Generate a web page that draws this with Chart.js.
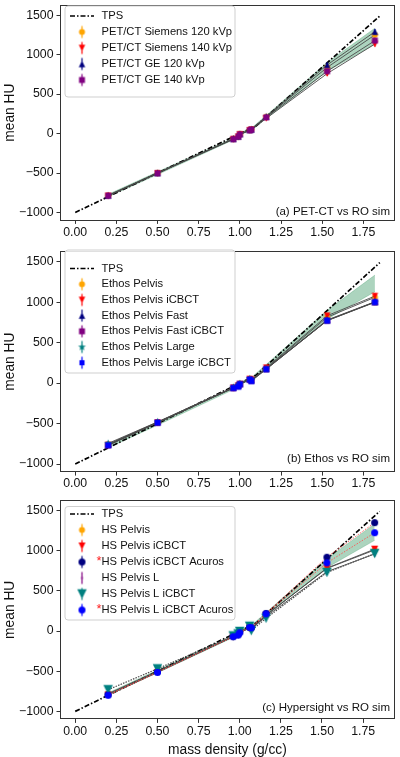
<!DOCTYPE html>
<html><head><meta charset="utf-8">
<script src="https://cdn.jsdelivr.net/npm/chart.js@4.4.0/dist/chart.umd.min.js"></script>
<style>
html,body{margin:0;padding:0;background:#fff;width:400px;height:757px;overflow:hidden;position:relative}
canvas{position:absolute;left:0}
</style></head><body>
<canvas id="c1" width="400" height="245" style="top:0px"></canvas>
<canvas id="c2" width="400" height="250" style="top:245px"></canvas>
<canvas id="c3" width="400" height="262" style="top:495px"></canvas>
<script>
// ---------- DATA ----------
const density = [0.20, 0.50, 0.96, 0.99, 1.00, 1.06, 1.07, 1.16, 1.53, 1.82];
const xTicks = [0.00, 0.25, 0.50, 0.75, 1.00, 1.25, 1.50, 1.75];
const yTicks = [-1000, -500, 0, 500, 1000, 1500];
const tpsDensity = [0.00, 1.00, 1.10, 1.85];
const tpsHU = [-1000, 0, 100, 1490];
const bandLow  = [-800, -520, -80, -50, -15, 30, 40, 190, 790, 1130];
const bandHigh = [-770, -485, -55, -25, 10, 60, 70, 230, 900, 1335];
const errSmall = [15, 15, 12, 12, 12, 12, 12, 15, 30, 35];

// panel (a) PET-CT
const petSiemens120 = [-785, -500, -68, -38, -8, 45, 52, 212, 838, 1250];
const petSiemens140 = [-790, -505, -72, -40, -10, 40, 48, 192, 760, 1135];
const petGE120      = [-782, -498, -65, -35, -5, 48, 55, 218, 870, 1290];
const petGE140      = [-787, -502, -70, -40, -10, 42, 50, 205, 790, 1178];
// panel (b) Ethos
const ethosPelvis          = [-760, -485, -60, -35, -15, 45, 35, 180, 815, 1060];
const ethosPelvisICBCT     = [-765, -488, -58, -30, -12, 50, 40, 190, 833, 1075];
const ethosPelvisFast      = [-755, -482, -55, -28, -10, 48, 38, 178, 780, 1005];
const ethosPelvisFastICBCT = [-770, -490, -62, -35, -15, 42, 30, 172, 772, 998];
const ethosPelvisLarge     = [-745, -480, -52, -25, -5, 55, 35, 176, 776, 1002];
const ethosPelvisLargeICBCT= [-768, -488, -60, -45, -12, 45, 25, 172, 772, 1002];
// panel (c) Hypersight
const hsPelvis            = [-790, -510, -70, -45, -15, 40, 30, 200, 780, 1010];
const hsPelvisICBCT       = [-795, -515, -72, -48, -18, 38, 28, 195, 785, 1020];
const hsPelvisICBCTAcuros = [-790, -505, -65, -40, -10, 50, 45, 220, 920, 1350];
const hsPelvisL           = [-780, -500, -68, -45, -15, 40, 25, 180, 740, 960];
const hsPelvisLICBCT      = [-730, -470, -60, -35, -5, 60, 5, 160, 730, 965];
const hsPelvisLICBCTAcuros= [-800, -515, -70, -50, -20, 45, 40, 215, 850, 1225];

const labelsA = ['PET/CT Siemens 120 kVp','PET/CT Siemens 140 kVp','PET/CT GE 120 kVp','PET/CT GE 140 kVp'];
const labelsB = ['Ethos Pelvis','Ethos Pelvis iCBCT','Ethos Pelvis Fast','Ethos Pelvis Fast iCBCT','Ethos Pelvis Large','Ethos Pelvis Large iCBCT'];
const labelsC = ['HS Pelvis','HS Pelvis iCBCT','HS Pelvis iCBCT Acuros','HS Pelvis L','HS Pelvis L iCBCT','HS Pelvis L iCBCT Acuros'];

// ---------- STYLE ----------
const FONT = "'Liberation Sans', Arial, Helvetica, sans-serif";
Chart.defaults.font.family = FONT;
Chart.defaults.color = '#111';
const ORANGE='#FFA500', RED='#FF0000', NAVY='#000080', PURPLE='#800080', TEAL='#008080', BLUE='#0000FF';
const GRAY='#4a4a4a';

function marker(shape, color, size, errHalf) {
  const pad = 1;
  const w = Math.ceil(size + pad*2) | 1;
  const h = (Math.ceil(Math.max(size, errHalf*2) + pad*2)) | 1;
  const c = document.createElement('canvas');
  c.width = w; c.height = h;
  const g = c.getContext('2d');
  const cx = w/2, cy = h/2, r = size/2;
  if (errHalf) {
    g.strokeStyle = color; g.lineWidth = 1.2;
    g.beginPath(); g.moveTo(cx, cy-errHalf); g.lineTo(cx, cy+errHalf); g.stroke();
  }
  g.fillStyle = color;
  g.beginPath();
  if (shape==='o') g.arc(cx, cy, r, 0, Math.PI*2);
  else if (shape==='v') { g.moveTo(cx, cy+r); g.lineTo(cx-r, cy-r); g.lineTo(cx+r, cy-r); g.closePath(); }
  else if (shape==='^') { g.moveTo(cx, cy-r); g.lineTo(cx-r, cy+r); g.lineTo(cx+r, cy+r); g.closePath(); }
  else if (shape==='s') { g.rect(cx-r*0.85, cy-r*0.85, r*1.7, r*1.7); }
  else if (shape==='*') {
    for (let k=0;k<10;k++){ const a=-Math.PI/2+k*Math.PI/5; const rr=(k%2)?r*0.45:r*1.1;
      const px=cx+rr*Math.cos(a), py=cy+rr*Math.sin(a); k?g.lineTo(px,py):g.moveTo(px,py);} g.closePath();
  }
  else if (shape==='h') {
    for (let k=0;k<6;k++){ const a=-Math.PI/2+k*Math.PI/3; const px=cx+r*Math.cos(a), py=cy+r*Math.sin(a); k?g.lineTo(px,py):g.moveTo(px,py);} g.closePath();
  }
  else if (shape==='|') { g.rect(cx-0.8, cy-1.2, 1.6, 2.4); }
  g.fill();
  return c;
}

function tpsDS() {
  return { type:'line', label:'TPS', data: tpsDensity.map((d,i)=>({x:d,y:tpsHU[i]})),
    borderColor:'#000', borderWidth:1.7, borderDash:[5,2,1.5,2], pointRadius:0, fill:false, order:500, tension:0 };
}
function bandDS() {
  return [
    { type:'line', data: density.map((d,i)=>({x:d,y:bandLow[i]})), borderColor:'rgba(60,150,100,0.5)', borderWidth:0.6,
      pointRadius:0, fill:false, order:1000, tension:0 },
    { type:'line', data: density.map((d,i)=>({x:d,y:bandHigh[i]})), borderColor:'rgba(60,150,100,0.5)', borderWidth:0.6,
      pointRadius:0, fill:'-1', backgroundColor:'rgba(70,160,110,0.45)', order:999, tension:0 }
  ];
}
function seriesDS(s, idx) {
  return { type:'line', label:s.label, data: density.map((d,i)=>({x:d,y:s.values[i]})),
    borderColor:s.lineColor||GRAY, borderWidth:s.lineWidth||0.9, borderDash:s.dash||[],
    pointStyle: marker(s.shape, s.color, s.size, 0), pointRadius:4, pointHoverRadius:4,
    errors: errSmall, errColor: s.color, fill:false, tension:0, order:-idx };
}

function buildChart(id, pageTop, canvasH, areaTop, areaBottom, series, annot, xTitle, leg) {
  const datasets = [...bandDS(), tpsDS(), ...series.map(seriesDS)];
  const errPlugin = {
    id:'err'+id,
    afterDatasetDraw(chart, args) {
      const ds = chart.data.datasets[args.index];
      if (!ds.errors) return;
      const ys = chart.scales.y, ctx = chart.ctx;
      ctx.save(); ctx.strokeStyle = ds.errColor; ctx.lineWidth = 1.1;
      args.meta.data.forEach((pt, i) => {
        const v = ds.data[i].y, e = ds.errors[i];
        ctx.beginPath(); ctx.moveTo(pt.x, ys.getPixelForValue(v-e)); ctx.lineTo(pt.x, ys.getPixelForValue(v+e)); ctx.stroke();
      });
      ctx.restore();
    }
  };
  const decoPlugin = {
    id:'deco'+id,
    afterDatasetsDraw(chart) {
      const ctx = chart.ctx, a = chart.chartArea;
      ctx.save();
      ctx.strokeStyle = '#333'; ctx.lineWidth = 1;
      ctx.strokeRect(Math.round(a.left)+0.5, Math.round(a.top)+0.5, Math.round(a.right-a.left)-1, Math.round(a.bottom-a.top)-1);
      ctx.fillStyle = '#111'; ctx.font = '11.5px '+FONT; ctx.textAlign='right'; ctx.textBaseline='middle';
      ctx.fillText(annot.text, annot.x, annot.y - pageTop);
      const bx = leg.box;
      const x0=bx[0], y0=bx[1]-pageTop, x1=bx[2], y1=bx[3]-pageTop, rr=3;
      ctx.beginPath();
      ctx.moveTo(x0+rr,y0); ctx.lineTo(x1-rr,y0); ctx.quadraticCurveTo(x1,y0,x1,y0+rr);
      ctx.lineTo(x1,y1-rr); ctx.quadraticCurveTo(x1,y1,x1-rr,y1); ctx.lineTo(x0+rr,y1);
      ctx.quadraticCurveTo(x0,y1,x0,y1-rr); ctx.lineTo(x0,y0+rr); ctx.quadraticCurveTo(x0,y0,x0+rr,y0); ctx.closePath();
      ctx.fillStyle='rgba(255,255,255,0.85)'; ctx.fill();
      ctx.strokeStyle='#cfcfcf'; ctx.lineWidth=1; ctx.stroke();
      ctx.font = '11.2px '+FONT; ctx.textAlign='left'; ctx.textBaseline='middle';
      const rows = [{label:'TPS', tps:true}, ...series];
      rows.forEach((r, i) => {
        const y = leg.first - pageTop + i*leg.step;
        if (r.tps) {
          ctx.save(); ctx.strokeStyle='#000'; ctx.lineWidth=1.7; ctx.setLineDash([5,2,1.5,2]);
          ctx.beginPath(); ctx.moveTo(70, y); ctx.lineTo(94, y); ctx.stroke(); ctx.restore();
        } else {
          const img = marker(r.shape, r.color, r.legSize||r.size, 6);
          ctx.drawImage(img, 82 - img.width/2, y - img.height/2);
        }
        if (r.star) { ctx.save(); ctx.fillStyle='#FF2020'; ctx.font='13px '+FONT; ctx.textAlign='right'; ctx.fillText('*', 101.5, y-1); ctx.restore(); }
        ctx.fillStyle='#111';
        ctx.fillText(r.label, 101.5, y);
      });
      ctx.restore();
    }
  };
  return new Chart(document.getElementById(id), {
    data: { datasets },
    plugins: [errPlugin, decoPlugin],
    options: {
      responsive:false, animation:false, devicePixelRatio:1,
      events: [],
      layout: { padding: { left:0, right:2, top: areaTop - pageTop, bottom:0 } },
      plugins: { legend:{display:false}, tooltip:{enabled:false} },
      scales: {
        x: { type:'linear', min:-0.0925, max:1.9425,
          afterBuildTicks(s){ s.ticks = xTicks.map(v=>({value:v})); },
          afterFit(s){ s.height = canvasH - (areaBottom - pageTop); s.paddingLeft=0; s.paddingRight=0; },
          ticks:{ autoSkip:false, maxRotation:0, padding:1, font:{size:12.3}, color:'#111', callback:v=>Number(v).toFixed(2) },
          grid:{ drawOnChartArea:false, drawTicks:true, tickLength:3.5, color:'#333' },
          border:{ display:false },
          title:{ display: !!xTitle, text: xTitle||'', font:{size:13.8, lineHeight:1.0}, color:'#111', padding:{top:0,bottom:0} }
        },
        y: { type:'linear', min:-1100, max:1630,
          afterBuildTicks(s){ s.ticks = yTicks.map(v=>({value:v})); },
          afterFit(s){ s.width = 60; s.paddingTop=0; s.paddingBottom=0; },
          ticks:{ autoSkip:false, padding:3, font:{size:12.3}, color:'#111', callback:v=> (v<0?'\u2212':'')+Math.abs(v) },
          grid:{ drawOnChartArea:false, drawTicks:true, tickLength:3.5, color:'#333' },
          border:{ display:false },
          title:{ display:true, text:'mean HU', font:{size:13.8}, color:'#111', padding:{top:2,bottom:0} }
        }
      }
    }
  });
}

const seriesA = [
  {label:labelsA[0], values:petSiemens120, color:ORANGE, shape:'o', size:6},
  {label:labelsA[1], values:petSiemens140, color:RED,    shape:'v', size:6.5},
  {label:labelsA[2], values:petGE120,      color:NAVY,   shape:'^', size:6.5},
  {label:labelsA[3], values:petGE140,      color:PURPLE, shape:'s', size:7}
];
const seriesB = [
  {label:labelsB[0], values:ethosPelvis,          color:ORANGE, shape:'o', size:6},
  {label:labelsB[1], values:ethosPelvisICBCT,     color:RED,    shape:'v', size:6.5},
  {label:labelsB[2], values:ethosPelvisFast,      color:NAVY,   shape:'^', size:6.5},
  {label:labelsB[3], values:ethosPelvisFastICBCT, color:PURPLE, shape:'s', size:7},
  {label:labelsB[4], values:ethosPelvisLarge,     color:TEAL,   shape:'*', size:7.5},
  {label:labelsB[5], values:ethosPelvisLargeICBCT,color:BLUE,   shape:'s', size:7, legSize:6}
];
const seriesC = [
  {label:labelsC[0], values:hsPelvis,             color:ORANGE, shape:'o', size:6},
  {label:labelsC[1], values:hsPelvisICBCT,        color:RED,    shape:'v', size:7},
  {label:labelsC[2], values:hsPelvisICBCTAcuros,  color:NAVY,   shape:'o', size:7, star:true, lineColor:'#ff5050', dash:[1.5,1.5]},
  {label:labelsC[3], values:hsPelvisL,            color:PURPLE, shape:'|', size:3},
  {label:labelsC[4], values:hsPelvisLICBCT,       color:TEAL,   shape:'v', size:9.5, dash:[1.5,1.2], lineWidth:1.2},
  {label:labelsC[5], values:hsPelvisLICBCTAcuros, color:BLUE,   shape:'o', size:7, star:true, lineColor:'#ff5050', dash:[1.5,1.5]}
];

buildChart('c1', 0, 245, 0, 220.4, seriesA, {text:'(a) PET-CT vs RO sim', x:390, y:211.5}, null,
  {box:[65,6,235,97], first:16, step:16});
buildChart('c2', 245, 250, 251.2, 472.1, seriesB, {text:'(b) Ethos vs RO sim', x:390, y:458.5}, null,
  {box:[65,250,235,373], first:268.5, step:15.7});
buildChart('c3', 495, 262, 498.5, 719.4, seriesC, {text:'(c) Hypersight vs RO sim', x:390, y:707.5}, 'mass density (g/cc)',
  {box:[65,506.5,235,620], first:514, step:16});
</script>
</body></html>
